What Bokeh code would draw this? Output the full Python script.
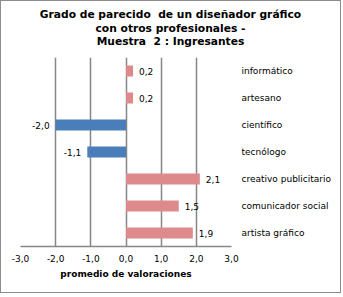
from bokeh.plotting import figure
from bokeh.layouts import column
from bokeh.models import Range1d, FactorRange, FixedTicker, ColumnDataSource, Div
from bokeh.core.properties import value
from bokeh.embed import file_html
from bokeh.resources import INLINE

categories = ["informático", "artesano", "científico", "tecnólogo",
              "creativo publicitario", "comunicador social", "artista gráfico"]
values = [0.2, 0.2, -2.0, -1.1, 2.1, 1.5, 1.9]
value_labels = ["0,2", "0,2", "-2,0", "-1,1", "2,1", "1,5", "1,9"]
x_ticks = [-3, -2, -1, 0, 1, 2, 3]
x_tick_labels = ["-3,0", "-2,0", "-1,0", "0,0", "1,0", "2,0", "3,0"]
title_lines = ["Grado de parecido&nbsp; de un diseñador gráfico",
               "con otros profesionales -",
               "Muestra&nbsp; 2 : Ingresantes"]
x_axis_title = "promedio de valoraciones"

POS = "#DE8A8C"
NEG = "#4A7EBB"
GRID = "#868686"
FONT = "DejaVu Sans"

W = 339
TITLE_H = 55

title_div = Div(
    text=('<div style="width:%dpx;text-align:center;font-family:\'DejaVu Sans\';'
          'font-weight:bold;font-size:10.7px;line-height:13.5px;color:black;'
          'padding-top:7px;margin:0;">%s</div>') % (W, "<br>".join(title_lines)),
    width=W, height=TITLE_H, margin=0)

colors = [POS if v >= 0 else NEG for v in values]
src = ColumnDataSource(dict(y=categories, v=values, c=colors, t=value_labels))
pos = ColumnDataSource(dict(y=[c for c, v in zip(categories, values) if v >= 0],
                            v=[v for v in values if v >= 0],
                            t=[t for t, v in zip(value_labels, values) if v >= 0]))
neg = ColumnDataSource(dict(y=[c for c, v in zip(categories, values) if v < 0],
                            v=[v for v in values if v < 0],
                            t=[t for t, v in zip(value_labels, values) if v < 0]))

p = figure(frame_width=211, frame_height=189,
           x_range=Range1d(x_ticks[0], x_ticks[-1]),
           y_range=FactorRange(*reversed(categories), range_padding=0),
           y_axis_location="right",
           output_backend="svg", toolbar_location=None,
           min_border_left=19, min_border_right=109,
           min_border_top=1, min_border_bottom=46,
           background_fill_color="white", border_fill_color="white")
p.outline_line_color = None

p.hbar(y="y", left=0, right="v", height=0.4, fill_color="c", line_color=None, source=src)

p.text(x="v", y="y", text="t", source=pos, x_offset=6, text_align="left",
       text_baseline="middle", text_font=value(FONT), text_font_size="9px", text_color="black")
p.text(x="v", y="y", text="t", source=neg, x_offset=-6, text_align="right",
       text_baseline="middle", text_font=value(FONT), text_font_size="9px", text_color="black")

p.xgrid.ticker = FixedTicker(ticks=x_ticks)
p.xgrid.grid_line_color = GRID
p.xgrid.grid_line_width = 1.5
p.ygrid.grid_line_color = None

xa = p.xaxis[0]
xa.ticker = FixedTicker(ticks=x_ticks)
xa.major_label_overrides = dict(zip(x_ticks, x_tick_labels))
xa.axis_line_color = GRID
xa.axis_line_width = 1.5
xa.major_tick_line_color = None
xa.minor_tick_line_color = None
xa.major_tick_out = 0
xa.major_tick_in = 0
xa.minor_tick_out = 0
xa.major_label_standoff = 8
xa.major_label_text_font = FONT
xa.major_label_text_font_size = "9px"
xa.major_label_text_color = "black"
xa.axis_label = x_axis_title
xa.axis_label_text_font = FONT
xa.axis_label_text_font_size = "9px"
xa.axis_label_text_font_style = "bold"
xa.axis_label_standoff = 4
xa.axis_label_text_color = "black"

ya = p.yaxis[0]
ya.axis_line_color = None
ya.major_tick_line_color = None
ya.minor_tick_line_color = None
ya.major_tick_out = 0
ya.major_tick_in = 0
ya.major_label_standoff = 10
ya.major_label_text_font = FONT
ya.major_label_text_font_size = "9px"
ya.major_label_text_color = "black"

layout = column(title_div, p, spacing=0,
                styles={"border": "1px solid #8c8c8c", "background-color": "white"})

open("out.html", "w").write(file_html(layout, INLINE))
